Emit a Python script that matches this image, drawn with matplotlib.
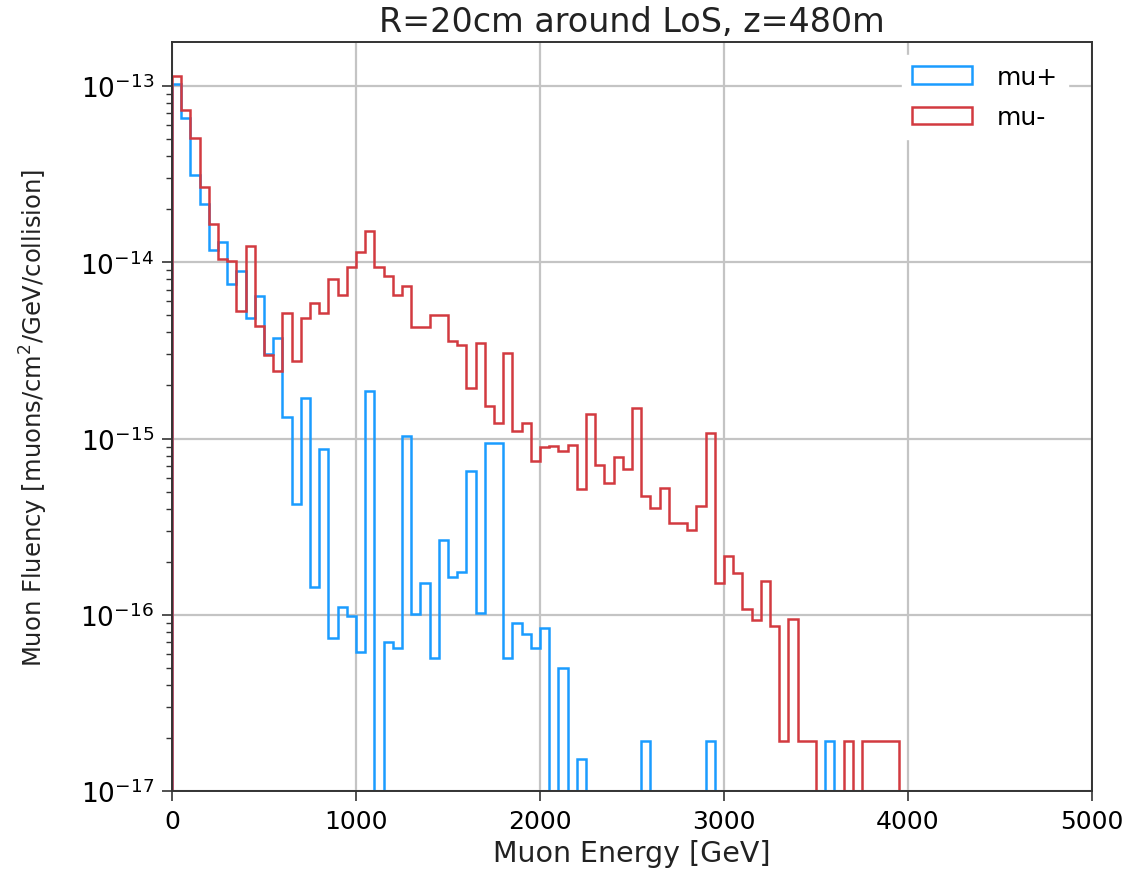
import numpy as np
import matplotlib
matplotlib.use("Agg")
import matplotlib.pyplot as plt
from matplotlib.ticker import NullFormatter

# Energy binning (GeV): 100 bins of 50 GeV from 0 to 5000
bin_edges = np.linspace(0, 5000, 101)

mu_plus = [
    1.03e-13, 6.61e-14, 3.13e-14, 2.13e-14, 1.18e-14, 1.31e-14, 7.54e-15, 8.90e-15, 4.82e-15, 6.47e-15,
    3.01e-15, 3.71e-15, 1.32e-15, 4.25e-16, 1.70e-15, 1.44e-16, 8.72e-16, 7.43e-17, 1.10e-16, 9.78e-17,
    6.16e-17, 1.87e-15, 0, 6.97e-17, 6.52e-17, 1.04e-15, 1.01e-16, 1.51e-16, 5.72e-17, 2.65e-16,
    1.64e-16, 1.75e-16, 6.52e-16, 1.03e-16, 9.39e-16, 9.39e-16, 5.67e-17, 8.96e-17, 7.76e-17, 6.46e-17,
    8.36e-17, 0, 4.98e-17, 0, 1.51e-17, 0, 0, 0, 0, 0,
    0, 1.92e-17, 0, 0, 0, 0, 0, 0, 1.92e-17, 0,
    0, 0, 0, 0, 0, 0, 0, 0, 0, 0,
    0, 1.92e-17, 0, 0, 0, 0, 0, 0, 0, 0,
    0, 0, 0, 0, 0, 0, 0, 0, 0, 0,
    0, 0, 0, 0, 0, 0, 0, 0, 0, 0,
]

mu_minus = [
    1.14e-13, 7.33e-14, 5.08e-14, 2.69e-14, 1.65e-14, 1.05e-14, 1.02e-14, 5.32e-15, 1.23e-14, 4.35e-15,
    2.98e-15, 2.43e-15, 5.13e-15, 2.77e-15, 4.82e-15, 5.86e-15, 5.16e-15, 8.00e-15, 6.50e-15, 9.38e-15,
    1.15e-14, 1.51e-14, 9.38e-15, 8.40e-15, 6.53e-15, 7.38e-15, 4.31e-15, 4.31e-15, 5.03e-15, 5.03e-15,
    3.59e-15, 3.40e-15, 1.93e-15, 3.50e-15, 1.53e-15, 1.22e-15, 3.07e-15, 1.10e-15, 1.22e-15, 7.48e-16,
    8.91e-16, 9.12e-16, 8.55e-16, 9.18e-16, 5.20e-16, 1.38e-15, 7.07e-16, 5.59e-16, 7.82e-16, 6.71e-16,
    1.49e-15, 4.70e-16, 4.02e-16, 5.21e-16, 3.30e-16, 3.30e-16, 3.02e-16, 4.12e-16, 1.07e-15, 1.52e-16,
    2.16e-16, 1.72e-16, 1.08e-16, 9.33e-17, 1.55e-16, 8.59e-17, 1.92e-17, 9.44e-17, 1.92e-17, 1.92e-17,
    0, 0, 0, 1.92e-17, 0, 1.92e-17, 1.92e-17, 1.92e-17, 1.92e-17, 0,
    0, 0, 0, 0, 0, 0, 0, 0, 0, 0,
    0, 0, 0, 0, 0, 0, 0, 0, 0, 0,
]

series_labels = ["mu+", "mu-"]
series_colors = ["#1a9cff", "#d23a40"]

x_ticks = [0, 1000, 2000, 3000, 4000, 5000]

fig = plt.figure(figsize=(11.3, 8.7), dpi=100)
ax = fig.add_axes([172 / 1130, 1 - 792 / 870, 920 / 1130, 749 / 870])

centers = 0.5 * (bin_edges[:-1] + bin_edges[1:])
for vals, lab, col in zip([mu_plus, mu_minus], series_labels, series_colors):
    ax.hist(centers, bins=bin_edges, weights=vals, histtype="step",
            color=col, lw=1.8, label=lab, log=True)

ax.set_yscale("log", nonpositive="clip")
ax.set_xlim(0, 5000)
ax.set_ylim(1e-17, 10 ** -12.75)
ax.set_xticks(x_ticks)
ax.yaxis.set_minor_formatter(NullFormatter())

ax.grid(True, which="major", color="#c4c4c4", lw=1.6)
ax.set_axisbelow(True)

for s in ax.spines.values():
    s.set_color("#333333")
    s.set_linewidth(1.4)

ax.tick_params(axis="both", which="major", length=7, width=1.2, color="#333333", pad=6)
ax.tick_params(axis="both", which="minor", length=4, width=1.0, color="#333333")
ax.tick_params(axis="x", labelsize=18)
ax.tick_params(axis="y", labelsize=19)

ax.set_title("R=20cm around LoS, z=480m", fontsize=24, pad=8, color="#222222")
ax.set_xlabel("Muon Energy [GeV]", fontsize=20.5, labelpad=4, color="#222222")
ax.set_ylabel("Muon Fluency [muons/cm$^2$/GeV/collision]", fontsize=17.5,
              labelpad=22, color="#222222")

leg = ax.legend(loc="upper right", bbox_to_anchor=(0.985, 0.996), fontsize=18,
                frameon=True, facecolor="white", edgecolor="white", framealpha=1,
                handlelength=2.4, handletextpad=1.0, labelspacing=0.65,
                borderaxespad=0.4)

fig.savefig("out.png", dpi=100)
